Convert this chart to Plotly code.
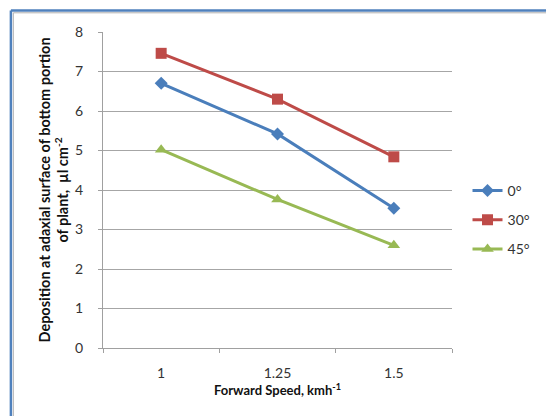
import plotly.graph_objects as go

speeds = ["1", "1.25", "1.5"]
series_names = ["0°", "30°", "45°"]
dep_0 = [6.70, 5.42, 3.54]
dep_30 = [7.46, 6.30, 4.84]
dep_45 = [5.02, 3.76, 2.60]
y_ticks = [0, 1, 2, 3, 4, 5, 6, 7, 8]

colors = ["#4A7EBB", "#BE4B48", "#98B954"]
symbols = ["diamond", "square", "triangle-up"]
sizes = [10, 11, 11]

W, H = 547, 416
L, R, T, B = 103, 84, 32, 68
pw, ph = W - L - R, H - T - B

fig = go.Figure()
for i, (name, vals) in enumerate(zip(series_names, [dep_0, dep_30, dep_45])):
    fig.add_trace(go.Scatter(
        x=speeds, y=vals, name=name, mode="lines+markers",
        line=dict(color=colors[i], width=3),
        marker=dict(symbol=symbols[i], size=sizes[i], color=colors[i]),
        legendgroup=name,
    ))

def px_x(p):
    return (p - L) / pw

def px_y(p):
    return (H - B - p) / ph

shapes = [
    dict(type="line", xref="paper", yref="paper", x0=px_x(8), x1=px_x(8), y0=px_y(10.5), y1=px_y(430),
         line=dict(color="#4F81BD", width=2.5)),
    dict(type="line", xref="paper", yref="paper", x0=px_x(8), x1=px_x(560), y0=px_y(10.5), y1=px_y(10.5),
         line=dict(color="#4F81BD", width=2.5)),
    dict(type="line", xref="paper", yref="paper", x0=px_x(10.5), x1=px_x(10.5), y0=px_y(12.8), y1=px_y(430),
         line=dict(color="#B0B0B0", width=1)),
    dict(type="line", xref="paper", yref="paper", x0=px_x(10.5), x1=px_x(560), y0=px_y(12.8), y1=px_y(12.8),
         line=dict(color="#B0B0B0", width=1)),
]

fig.update_layout(
    width=W, height=H,
    margin=dict(l=L, r=R, t=T, b=B, pad=0),
    paper_bgcolor="white", plot_bgcolor="white",
    font=dict(family="Lato, Open Sans, sans-serif", size=12, color="#333333"),
    shapes=shapes,
    showlegend=True,
    legend=dict(
        x=px_x(479), y=px_y(175), xanchor="left", yanchor="top",
        font=dict(size=14, color="#333333"),
        tracegroupgap=8, itemwidth=30,
        bgcolor="rgba(0,0,0,0)",
    ),
    xaxis=dict(
        type="category", range=[-0.5, 2.5],
        tickson="boundaries", ticks="outside", ticklen=4, tickcolor="#A0A0A0",
        ticklabelstandoff=12,
        showline=True, linecolor="#A0A0A0", linewidth=1,
        showgrid=False, zeroline=False,
        tickfont=dict(size=14, color="#333333"),
        title=dict(text="<b>Forward Speed, kmh<sup>-1</sup></b>", font=dict(size=13, color="#111111"), standoff=6),
    ),
    yaxis=dict(
        range=[0, 8], tickvals=y_ticks, ticks="outside", ticklen=4, tickcolor="#A0A0A0",
        ticklabelstandoff=12,
        showline=True, linecolor="#A0A0A0", linewidth=1,
        showgrid=True, gridcolor="#A6A6A6", gridwidth=1, zeroline=False,
        tickfont=dict(size=14, color="#333333"),
        title=dict(text="<b>Deposition at adaxial surface of bottom portion<br>of plant,  µl cm<sup>-2</sup></b>",
                   font=dict(size=14.5, color="#111111"), standoff=2),
    ),
)

fig.write_html("out.html")
